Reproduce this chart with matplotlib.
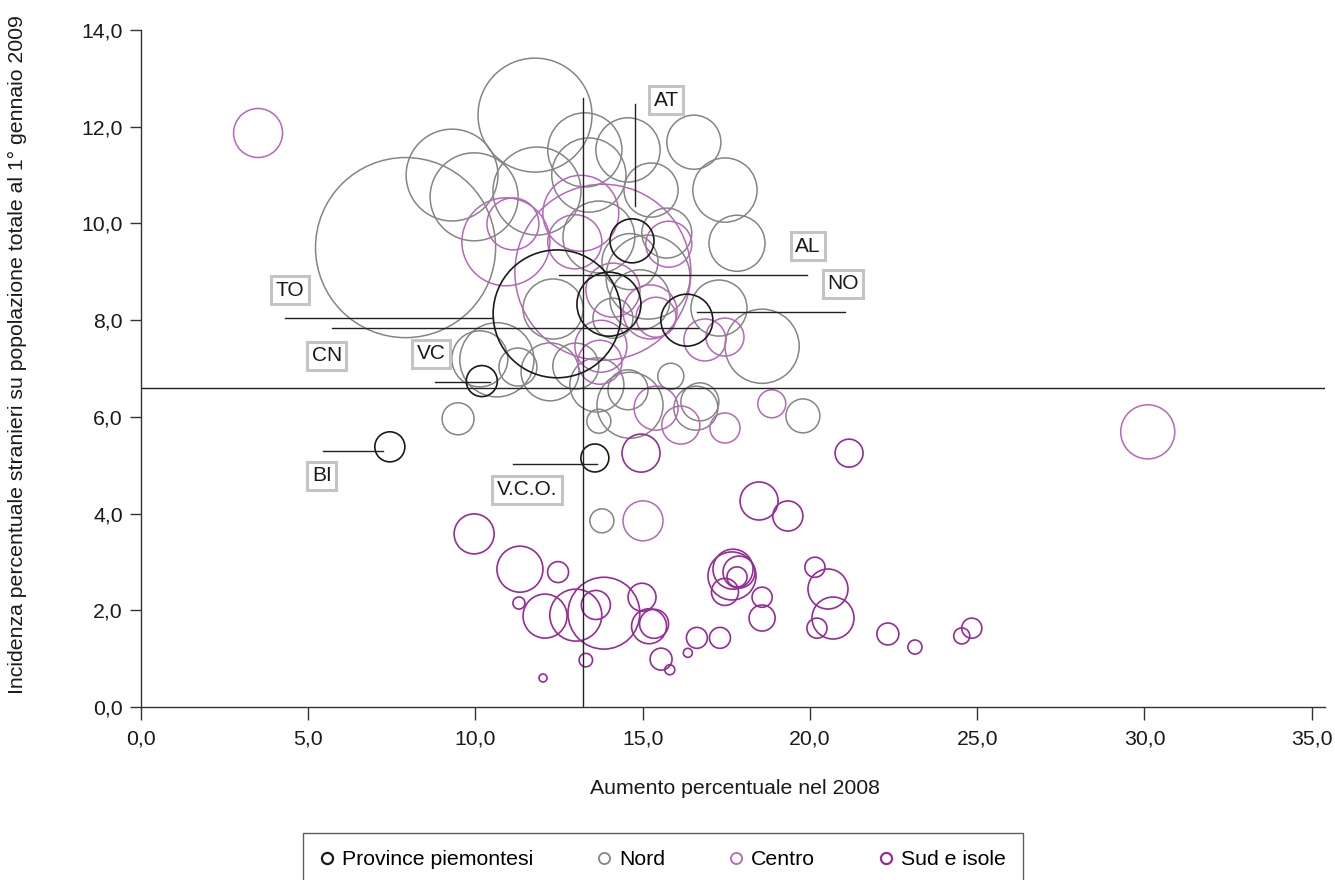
import matplotlib
matplotlib.use("Agg")
import matplotlib.pyplot as plt
from matplotlib.lines import Line2D
from matplotlib.ticker import FuncFormatter, MultipleLocator

plt.rcParams["font.family"] = ["Liberation Sans", "DejaVu Sans"]

# --- data: x = aumento % 2008, y = incidenza % stranieri, v = stranieri (migliaia, area bolla)
nord_x = [7.91, 9.30, 9.96, 11.78, 11.84, 13.27, 13.39, 14.56, 15.25, 16.53, 17.46, 17.82,
          13.69, 14.62, 15.16, 15.72, 17.28, 14.11, 14.92, 18.57, 12.32, 10.13, 10.64, 11.27,
          12.23, 13.00, 9.48, 13.69, 14.62, 13.63, 14.56, 15.84, 16.59, 16.71, 19.79, 13.78]
nord_y = [9.50, 11.00, 10.55, 12.24, 10.67, 11.52, 11.00, 11.52, 10.69, 11.68, 10.69, 9.59,
          9.72, 9.21, 8.89, 9.80, 8.25, 8.04, 8.42, 7.46, 8.23, 7.20, 7.18, 7.03,
          6.93, 7.05, 5.96, 5.91, 6.24, 6.66, 6.56, 6.84, 6.18, 6.31, 6.02, 3.85]
nord_v = [377, 98, 90, 151, 90, 64, 64, 48, 34, 34, 48, 36.5,
          60, 36.5, 82, 29, 36.5, 18.6, 42, 64, 42, 36.5, 64, 16.8,
          39, 24.6, 11.9, 6.7, 50.7, 34, 18.6, 7.9, 22.5, 16.8, 13.4, 6.7]

centro_x = [3.50, 10.91, 11.12, 12.97, 13.15, 13.81, 14.11, 15.22, 15.40, 13.75,
            13.72, 15.78, 16.86, 17.46, 15.40, 16.14, 17.46, 18.86, 15.01, 30.10]
centro_y = [11.87, 9.62, 9.99, 9.62, 10.21, 8.99, 8.62, 8.17, 8.06, 7.46,
            7.13, 9.57, 7.59, 7.65, 6.18, 5.83, 5.77, 6.27, 3.85, 5.69]
centro_v = [27.9, 90, 31.4, 34, 67, 360, 34, 34, 18.6, 31.4,
            22.5, 24.6, 20.5, 16.8, 22.5, 16.8, 10.5, 9.1, 18.6, 34]

sud_x = [14.95, 21.17, 18.48, 19.34, 9.96, 11.33, 12.47, 11.30, 12.08, 13.00, 13.84, 13.60,
         14.98, 15.19, 15.34, 13.30, 12.02, 15.55, 15.81, 16.35, 16.62, 17.31, 17.67, 17.70,
         17.88, 17.82, 17.46, 18.57, 18.57, 20.15, 20.54, 20.69, 20.21, 22.33, 23.14, 24.54, 24.84]
sud_y = [5.25, 5.25, 4.26, 3.95, 3.58, 2.85, 2.79, 2.15, 1.88, 1.90, 1.94, 2.11,
         2.27, 1.67, 1.72, 0.97, 0.60, 0.99, 0.77, 1.12, 1.43, 1.43, 2.71, 2.85,
         2.79, 2.69, 2.38, 2.27, 1.84, 2.89, 2.44, 1.84, 1.63, 1.51, 1.24, 1.47, 1.63]
sud_v = [16.8, 9.1, 16.8, 10.5, 18.6, 24.6, 5.1, 1.7, 22.5, 31.4, 60, 9.8,
         9.1, 14.2, 9.8, 2.1, 0.74, 5.6, 1.16, 0.94, 5.1, 5.1, 26.8, 18.6,
         11.9, 4.7, 8.5, 4.7, 7.9, 4.7, 18.6, 20.5, 4.7, 5.6, 2.3, 3.0, 4.7]

piem_x = [12.44, 13.99, 14.68, 16.32, 10.19, 7.44, 13.57]
piem_y = [8.13, 8.33, 9.64, 8.00, 6.74, 5.38, 5.15]
piem_v = [190, 47.6, 22.5, 31.4, 11.2, 10.5, 9.1]

# etichette province: testo, posizione etichetta, segmento di richiamo (x0, x1, y0, y1)
lab_text = ["TO", "CN", "VC", "BI", "V.C.O.", "AT", "AL", "NO"]
lab_pos = [(4.45, 8.62), (5.55, 7.26), (8.67, 7.30), (5.41, 4.78),
           (11.54, 4.49), (15.70, 12.55), (19.94, 9.53), (20.99, 8.75)]
lab_seg = [(4.31, 10.52, 8.04, 8.04), (5.71, 16.65, 7.83, 7.83), (8.79, 10.43, 6.73, 6.73),
           (5.44, 7.23, 5.29, 5.29), (11.12, 13.63, 5.02, 5.02), (14.77, 14.77, 12.47, 10.36),
           (12.50, 19.91, 8.94, 8.94), (16.62, 21.05, 8.16, 8.16)]

mean_x = 13.23
mean_y = 6.60

K = 44.6  # punti^2 per migliaio di stranieri
FS = 15.3

C_PIEM = "#1a1a1a"
C_NORD = "#858585"
C_CENTRO = "#b468b8"
C_SUD = "#952c97"

fig = plt.figure(figsize=(13.35, 8.8), dpi=100)
ax = fig.add_axes([141 / 1335, 1 - 707 / 880, 1184 / 1335, 677 / 880])

ax.scatter(nord_x, nord_y, s=[v * K for v in nord_v], facecolors="none",
           edgecolors=C_NORD, linewidths=1.1)
ax.scatter(centro_x, centro_y, s=[v * K for v in centro_v], facecolors="none",
           edgecolors=C_CENTRO, linewidths=1.1)
ax.scatter(sud_x, sud_y, s=[v * K for v in sud_v], facecolors="none",
           edgecolors=C_SUD, linewidths=1.2)
ax.scatter(piem_x, piem_y, s=[v * K for v in piem_v], facecolors="none",
           edgecolors=C_PIEM, linewidths=1.2)

# linee medie
ax.axhline(mean_y, color="#222222", lw=1.0)
ax.plot([mean_x, mean_x], [0, 12.59], color="#222222", lw=1.0)

# etichette con richiamo
for txt, (lx, ly), (x0, x1, y0, y1) in zip(lab_text, lab_pos, lab_seg):
    ax.plot([x0, x1], [y0, y1], color="#222222", lw=1.0)
    ax.text(lx, ly, txt, ha="center", va="center", fontsize=15, color="#1a1a1a",
            bbox=dict(boxstyle="square,pad=0.22", fc="white", ec="#c4c4c4", lw=2.2))

ax.set_xlim(0, 35.4)
ax.set_ylim(0, 14)
ax.xaxis.set_major_locator(MultipleLocator(5))
ax.yaxis.set_major_locator(MultipleLocator(2))
fmt = FuncFormatter(lambda v, p: f"{v:.1f}".replace(".", ","))
ax.xaxis.set_major_formatter(fmt)
ax.yaxis.set_major_formatter(fmt)

for s in ["top", "right"]:
    ax.spines[s].set_visible(False)
for s in ["left", "bottom"]:
    ax.spines[s].set_color("#333333")
    ax.spines[s].set_linewidth(1.0)
ax.tick_params(axis="x", direction="out", length=9, width=1, color="#333333",
               labelsize=FS, pad=7, labelcolor="#1a1a1a")
ax.tick_params(axis="y", direction="out", length=8, width=1, color="#333333",
               labelsize=FS, pad=5, labelcolor="#1a1a1a")

ax.set_xlabel("Aumento percentuale nel 2008", fontsize=FS, color="#1a1a1a")
ax.xaxis.set_label_coords(0.502, -0.106)
ax.set_ylabel("Incidenza percentuale stranieri su popolazione totale al 1° gennaio 2009",
              fontsize=FS, color="#1a1a1a")
ax.yaxis.set_label_coords(-0.0963, 0.52)

handles = [
    Line2D([], [], ls="none", marker="o", ms=8, mfc="none", mec=C_PIEM, mew=1.6),
    Line2D([], [], ls="none", marker="o", ms=8, mfc="none", mec=C_NORD, mew=1.3),
    Line2D([], [], ls="none", marker="o", ms=8, mfc="none", mec=C_CENTRO, mew=1.3),
    Line2D([], [], ls="none", marker="o", ms=8, mfc="none", mec=C_SUD, mew=1.6),
]
leg = fig.legend(handles, ["Province piemontesi", "Nord", "Centro", "Sud e isole"],
                 loc="upper left", bbox_to_anchor=(303 / 1335, 1 - 833 / 880),
                 borderaxespad=0, ncol=4, fontsize=FS, frameon=True, fancybox=False,
                 edgecolor="#333333", borderpad=0.8, handlelength=0.66,
                 handletextpad=0.38, columnspacing=3.0)
leg.get_frame().set_linewidth(1.0)

fig.savefig("out.png", dpi=100)
